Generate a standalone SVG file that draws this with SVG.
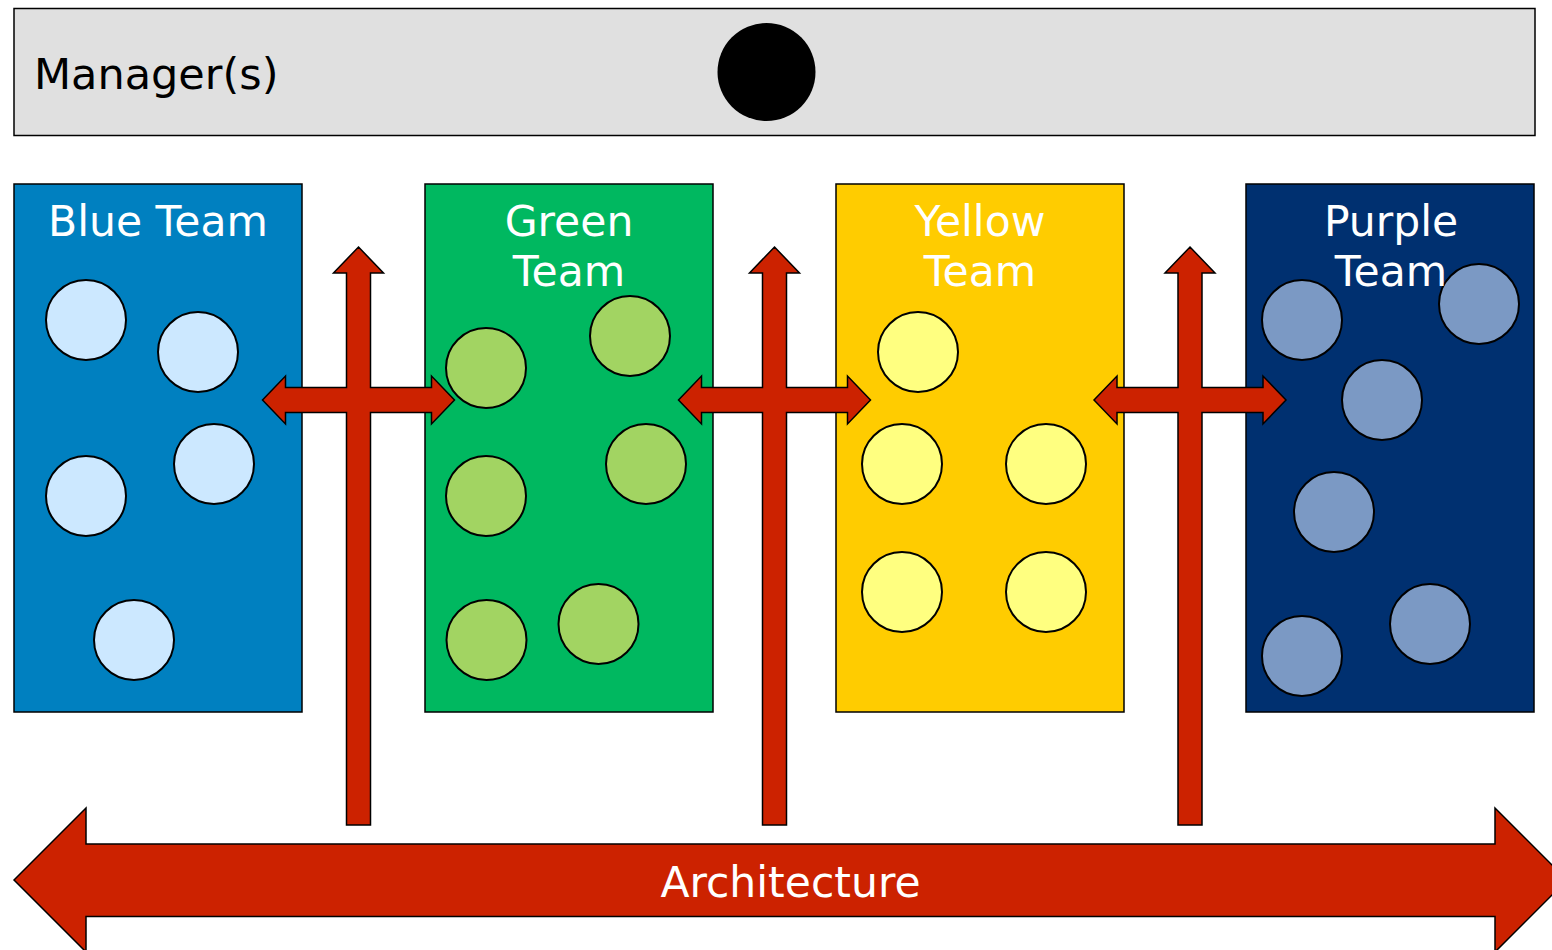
<svg xmlns="http://www.w3.org/2000/svg" width="1552" height="950" viewBox="0 0 1552 950">
<style>
.box{stroke:#000;stroke-width:1.5}
.lbl{font-family:"DejaVu Sans","Liberation Sans",sans-serif;font-size:42.5px;fill:#fff;text-anchor:middle}
.mem{stroke:#000;stroke-width:2}
.arrow{fill:#CC2200;stroke:#000;stroke-width:1.5;stroke-linejoin:miter}
</style>
<defs>
<polygon id="cross" points="0,247 25,273 12,273 12,387.5 73,387.5 73,376 96,400 73,424 73,412.5 12,412.5 12,825 -12,825 -12,412.5 -73,412.5 -73,424 -96,400 -73,376 -73,387.5 -12,387.5 -12,273 -25,273"/>
</defs>
<rect width="1552" height="950" fill="#fff"/>
<g id="managers">
<rect class="box" x="14" y="8.5" width="1521" height="127" fill="#E0E0E0"/>
<text x="34" y="89" font-family="DejaVu Sans,Liberation Sans,sans-serif" font-size="43" fill="#000">Manager(s)</text>
<circle cx="766.5" cy="72" r="49" fill="#000"/>
</g>
<g id="blue-team">
<rect class="box" x="14" y="184" width="288" height="528" fill="#0080C0"/>
<text class="lbl" x="158" y="236">Blue Team</text>
<g class="mem" fill="#CCE8FF">
<circle cx="86" cy="320" r="40"/><circle cx="198" cy="352" r="40"/><circle cx="214" cy="464" r="40"/><circle cx="86" cy="496" r="40"/><circle cx="134" cy="640" r="40"/>
</g>
</g>
<g id="green-team">
<rect class="box" x="425" y="184" width="288" height="528" fill="#00B860"/>
<text class="lbl" x="569" y="236">Green</text>
<text class="lbl" x="569" y="286">Team</text>
<g class="mem" fill="#A2D462">
<circle cx="630" cy="336" r="40"/><circle cx="486" cy="368" r="40"/><circle cx="646" cy="464" r="40"/><circle cx="486" cy="496" r="40"/><circle cx="486.5" cy="640" r="40"/><circle cx="598.5" cy="624" r="40"/>
</g>
</g>
<g id="yellow-team">
<rect class="box" x="836" y="184" width="288" height="528" fill="#FFCC00"/>
<text class="lbl" x="980" y="236">Yellow</text>
<text class="lbl" x="980" y="286">Team</text>
<g class="mem" fill="#FFFF80">
<circle cx="918" cy="352" r="40"/><circle cx="902" cy="464" r="40"/><circle cx="1046" cy="464" r="40"/><circle cx="902" cy="592" r="40"/><circle cx="1046" cy="592" r="40"/>
</g>
</g>
<g id="purple-team">
<rect class="box" x="1246" y="184" width="288" height="528" fill="#003070"/>
<g class="mem" fill="#7B99C4">
<circle cx="1302" cy="320" r="40"/><circle cx="1479" cy="304" r="40"/><circle cx="1382" cy="400" r="40"/><circle cx="1334" cy="512" r="40"/><circle cx="1430" cy="624" r="40"/><circle cx="1302" cy="656" r="40"/>
</g>
<text class="lbl" x="1391" y="236">Purple</text>
<text class="lbl" x="1391" y="286">Team</text>
</g>
<g id="connectors">
<use href="#cross" class="arrow" transform="translate(358.5,0)"/>
<use href="#cross" class="arrow" transform="translate(774.5,0)"/>
<use href="#cross" class="arrow" transform="translate(1190,0)"/>
</g>
<g id="architecture">
<polygon class="arrow" points="14,880 86,808 86,844 1495,844 1495,808 1567,880 1495,952 1495,916.5 86,916.5 86,952"/>
<text class="lbl" x="790.5" y="897">Architecture</text>
</g>
</svg>
